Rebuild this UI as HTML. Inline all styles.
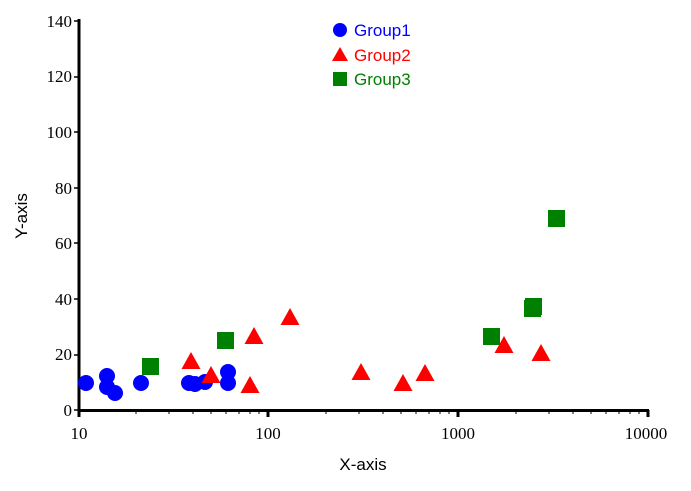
<!DOCTYPE html>
<html><head><style>body{margin:0;background:#fff}</style></head><body>
<svg width="691" height="486" xmlns="http://www.w3.org/2000/svg">
<g font-family="Liberation Serif, serif" font-size="17" fill="#000" text-anchor="end">
<text x="72" y="27">140</text><text x="72" y="82">120</text><text x="72" y="138">100</text>
<text x="72" y="194">80</text><text x="72" y="249">60</text><text x="72" y="305">40</text>
<text x="72" y="360">20</text><text x="72" y="416">0</text>
</g>
<g font-family="Liberation Serif, serif" font-size="17" text-anchor="middle">
<text x="79" y="439">10</text><text x="268" y="439">100</text><text x="458" y="439">1000</text><text x="646" y="439">10000</text>
</g>
<g stroke="#000" stroke-width="1.5">
<line x1="74" y1="21" x2="78" y2="21"/><line x1="74" y1="77" x2="78" y2="77"/><line x1="74" y1="132" x2="78" y2="132"/><line x1="74" y1="188" x2="78" y2="188"/><line x1="74" y1="243" x2="78" y2="243"/><line x1="74" y1="299" x2="78" y2="299"/><line x1="74" y1="355" x2="78" y2="355"/><line x1="74" y1="410" x2="78" y2="410"/>
</g>
<g stroke="#000" stroke-width="1">
<path d="M136,411v3M169,411v3M193,411v3M211,411v3M226,411v3M239,411v3M250,411v3M259,411v3
M326,411v3M359,411v3M383,411v3M401,411v3M416,411v3M429,411v3M440,411v3M449,411v3
M516,411v3M549,411v3M573,411v3M591,411v3M606,411v3M619,411v3M630,411v3M639,411v3"/>
</g>
<g stroke="#000" stroke-width="3">
<line x1="79" y1="19" x2="79" y2="412"/><line x1="77.5" y1="410.5" x2="649" y2="410.5"/>
<line x1="79" y1="410" x2="79" y2="417"/><line x1="268" y1="410" x2="268" y2="417"/><line x1="458" y1="410" x2="458" y2="417"/><line x1="648" y1="410" x2="648" y2="417"/>
</g>
<text x="363" y="470" font-family="Liberation Sans, sans-serif" font-size="17" text-anchor="middle">X-axis</text>
<text transform="translate(27,216) rotate(-90)" font-family="Liberation Sans, sans-serif" font-size="17" text-anchor="middle">Y-axis</text>
<g fill="#0000ff">
<circle cx="86" cy="383" r="8"/><circle cx="107" cy="376" r="8"/><circle cx="107" cy="387" r="8"/><circle cx="115" cy="393" r="8"/><circle cx="141" cy="383" r="8"/><circle cx="189" cy="383" r="8"/><circle cx="195" cy="384" r="8"/><circle cx="205" cy="382" r="8"/><circle cx="228" cy="372" r="8"/><circle cx="228" cy="383" r="8"/>
</g>
<g fill="#ff0000">
<path d="M191,352l9.5,17h-19z"/><path d="M211,366l9.5,17h-19z"/><path d="M254,327l9.5,17h-19z"/><path d="M250,376l9.5,17h-19z"/><path d="M290,308l9.5,17h-19z"/><path d="M361,363l9.5,17h-19z"/><path d="M403,374l9.5,17h-19z"/><path d="M425,364l9.5,17h-19z"/><path d="M504,336l9.5,17h-19z"/><path d="M541,344l9.5,17h-19z"/>
</g>
<g fill="#008000">
<rect x="142" y="358" width="17" height="17"/><rect x="217" y="332" width="17" height="17"/><rect x="483" y="328" width="17" height="17"/><rect x="524" y="300" width="17" height="17"/><rect x="525" y="298" width="17" height="17"/><rect x="548" y="210" width="17" height="17"/>
</g>
<circle cx="340" cy="30" r="7" fill="#0000ff"/>
<path d="M340,47l8,14h-16z" fill="#ff0000"/>
<rect x="333" y="72" width="14" height="14" fill="#008000"/>
<g font-family="Liberation Sans, sans-serif" font-size="17">
<text x="354" y="36" fill="#0000ff">Group1</text>
<text x="354" y="61" fill="#ff0000">Group2</text>
<text x="354" y="85" fill="#008000">Group3</text>
</g>
</svg>
</body></html>
